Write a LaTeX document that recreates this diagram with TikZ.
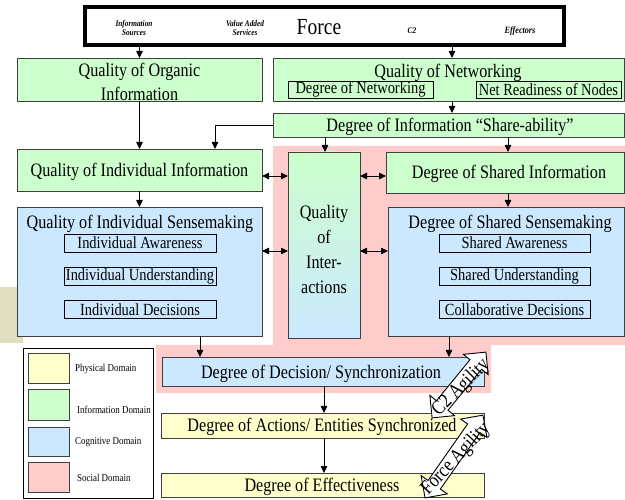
\documentclass[tikz,border=0pt]{standalone}
\usepackage{fontspec}
\setmainfont{Liberation Serif}[FakeStretch=0.85]
\usetikzlibrary{arrows.meta}
\definecolor{infogreen}{HTML}{CCFFCC}
\definecolor{cogblue}{HTML}{CCE8FF}
\definecolor{physyellow}{HTML}{FFFFCC}
\definecolor{socialpink}{HTML}{FFCCCC}
\definecolor{boxline}{HTML}{404040}
\definecolor{sidegray}{HTML}{E0DFC0}
\begin{document}
\begin{tikzpicture}[x=1pt,y=-1pt,
  box/.style={draw=boxline, line width=0.9pt, inner sep=0pt, outer sep=0pt},
  green/.style={box, fill=infogreen},
  blue/.style={box, fill=cogblue},
  yellow/.style={box, fill=physyellow},
  subbox/.style={draw=black, line width=0.8pt, inner sep=0pt, font=\fontsize{17}{20}\selectfont},
  txt/.style={font=\fontsize{19}{24}\selectfont, inner sep=0pt, align=center, yshift=-1.5pt},
  tiny/.style={font=\fontsize{8.6}{8.6}\selectfont\bfseries\itshape, inner sep=0pt, align=center},
  legtxt/.style={font=\fontsize{10.5}{12}\selectfont, inner sep=0pt, anchor=west},
  arr/.style={line width=0.8pt, -{Triangle[length=7pt,width=6.5pt]}},
  dbl/.style={line width=0.8pt, {Triangle[length=7pt,width=6.5pt]}-{Triangle[length=7pt,width=6.5pt]}},
  agil/.style={draw=black, line width=0.9pt, fill=white},
  agtxt/.style={font=\fontsize{20}{24}\selectfont, inner sep=0pt}]
\useasboundingbox (0,0) rectangle (625,500);

% social domain backdrop
\fill[socialpink] (273,146) -- (625,146) -- (625,345) -- (491,345) -- (491,393)
  -- (156,393) -- (156,345) -- (273,345) -- cycle;
\fill[sidegray] (0,287) rectangle (23,343);

% force header
\node[draw=black, line width=4.5pt, minimum width=479pt, minimum height=38pt, inner sep=0pt] (force) at (324.5,26) {};
\node[tiny] at (134,28) {Information\\Sources};
\node[tiny] at (245,28) {Value Added\\Services};
\node[font=\fontsize{23}{24}\selectfont, inner sep=0pt] at (319,27) {Force};
\node[tiny] at (412,31) {C2};
\node[tiny, font=\fontsize{9.6}{10}\selectfont\bfseries\itshape] at (520,31) {Effectors};

% information domain
\node[green, minimum width=245pt, minimum height=43pt] (organic) at (139.5,79.5) {};
\node[txt] at (139.5,80) {Quality of Organic\\Information};
\node[green, minimum width=351pt, minimum height=43pt] (netw) at (448.5,79.5) {};
\node[txt] at (448,71) {Quality of Networking};
\node[subbox, minimum width=145pt, minimum height=17pt] (degnet) at (360.5,89.5) {Degree of Networking};
\node[subbox, minimum width=145pt, minimum height=17pt] (netready) at (548.5,89.5) {Net Readiness of Nodes};
\node[green, minimum width=351pt, minimum height=24pt] (share) at (448.5,125) {};
\node[txt] at (450,125) {Degree of Information “Share-ability”};
\node[green, minimum width=245pt, minimum height=42pt] (indinfo) at (139.5,170) {};
\node[txt] at (139.5,170) {Quality of Individual Information};
\node[green, minimum width=238pt, minimum height=41pt] (shinfo) at (505,172.5) {};
\node[txt] at (509,172.5) {Degree of Shared Information};
\node[box, top color=infogreen, bottom color=cogblue, minimum width=72pt, minimum height=186pt] (inter) at (324,245) {};
\node[txt, font=\fontsize{19}{25}\selectfont] at (324,248) {Quality\\of\\Inter-\\actions};

% cognitive domain
\node[blue, minimum width=245pt, minimum height=129pt] (indsense) at (139.5,271.5) {};
\node[txt] at (140,222) {Quality of Individual Sensemaking};
\node[subbox, minimum width=152pt, minimum height=18pt] (ia) at (140,243) {Individual Awareness};
\node[subbox, minimum width=152pt, minimum height=18pt] (iu) at (140,276) {Individual Understanding};
\node[subbox, minimum width=152pt, minimum height=18pt] (id) at (140,309.5) {Individual Decisions};
\node[blue, minimum width=236pt, minimum height=129pt] (shsense) at (506,271.5) {};
\node[txt] at (510,222) {Degree of Shared Sensemaking};
\node[subbox, minimum width=151pt, minimum height=18pt] (sa) at (514.5,243) {Shared Awareness};
\node[subbox, minimum width=151pt, minimum height=18pt] (su) at (514.5,276) {Shared Understanding};
\node[subbox, minimum width=151pt, minimum height=18pt] (cd) at (514.5,309.5) {Collaborative Decisions};
\node[blue, minimum width=322pt, minimum height=29pt] (decision) at (323,371.5) {};
\node[txt] at (321,372) {Degree of Decision/ Synchronization};

% physical domain
\node[yellow, minimum width=323pt, minimum height=25pt] (actions) at (322.5,425.5) {};
\node[txt] at (322,425.5) {Degree of Actions/ Entities Synchronized};
\node[yellow, minimum width=323pt, minimum height=24pt] (effect) at (322.5,485) {};
\node[txt] at (322,485) {Degree of Effectiveness};

% x and y positions of the connectors
\coordinate (xnet) at (452,0);
\coordinate (xshl) at (215,0);
\coordinate (xint) at (325,0);
\coordinate (xshr) at (508,0);
\coordinate (xdl) at (200,0);
\coordinate (xdr) at (449,0);
\coordinate (xmid) at (324,0);
\coordinate (yinfo) at (0,176);
\coordinate (ysense) at (0,251);

\draw[arr] (force.south -| organic.north) -- (organic.north);
\draw[arr] (force.south -| xnet) -- (netw.north -| xnet);
\draw[arr] (organic.south) -- (indinfo.north);
\draw[arr] (netw.south -| xnet) -- (share.north -| xnet);
\draw[arr] (share.west) -| (indinfo.north -| xshl);
\draw[arr] (share.south -| xint) -- (inter.north -| xint);
\draw[arr] (share.south -| xshr) -- (shinfo.north -| xshr);
\draw[dbl] (indinfo.east |- yinfo) -- (inter.west |- yinfo);
\draw[dbl] (inter.east |- yinfo) -- (shinfo.west |- yinfo);
\draw[arr] (indinfo.south) -- (indsense.north -| indinfo.south);
\draw[dbl] (indsense.east |- ysense) -- (inter.west |- ysense);
\draw[dbl] (inter.east |- ysense) -- (shsense.west |- ysense);
\draw[arr] (shinfo.south -| xshr) -- (shsense.north -| xshr);
\draw[arr] (indsense.south -| xdl) -- (decision.north -| xdl);
\draw[arr] (shsense.south -| xdr) -- (decision.north -| xdr);
\draw[arr] (decision.south -| xmid) -- (actions.north -| xmid);
\draw[arr] (actions.south -| xmid) -- (effect.north -| xmid);

% agility block arrows
\begin{scope}[shift={(459,385)}, rotate=50.7]
  \draw[agil] (-42.5,0) -- (-26.5,-16) -- (-26.5,-7.5) -- (26.5,-7.5) -- (26.5,-16)
    -- (42.5,0) -- (26.5,16) -- (26.5,7.5) -- (-26.5,7.5) -- (-26.5,16) -- cycle;
\end{scope}
\node[agtxt, rotate=45] at (461,388) {C2 Agility};
\begin{scope}[shift={(454,456.5)}, rotate=55]
  \draw[agil] (-50.5,0) -- (-34.5,-16) -- (-34.5,-7.5) -- (34.5,-7.5) -- (34.5,-16)
    -- (50.5,0) -- (34.5,16) -- (34.5,7.5) -- (-34.5,7.5) -- (-34.5,16) -- cycle;
\end{scope}
\node[agtxt, rotate=47] at (456,459) {Force Agility};

% legend
\node[draw=black, line width=0.8pt, minimum width=130pt, minimum height=150pt, inner sep=0pt] (legend) at (88,423) {};
\node[yellow, minimum width=41pt, minimum height=30pt] (lphys) at (48.5,368) {};
\node[green, minimum width=41pt, minimum height=31pt] (linfo) at (48.5,404.5) {};
\node[blue, minimum width=41pt, minimum height=29pt] (lcog) at (48.5,441.5) {};
\node[box, fill=socialpink, minimum width=41pt, minimum height=30pt] (lsoc) at (48.5,477) {};
\node[legtxt] at (75,369) {Physical Domain};
\node[legtxt] at (77,410) {Information Domain};
\node[legtxt] at (75,442) {Cognitive Domain};
\node[legtxt] at (77,478) {Social Domain};
\end{tikzpicture}
\end{document}
